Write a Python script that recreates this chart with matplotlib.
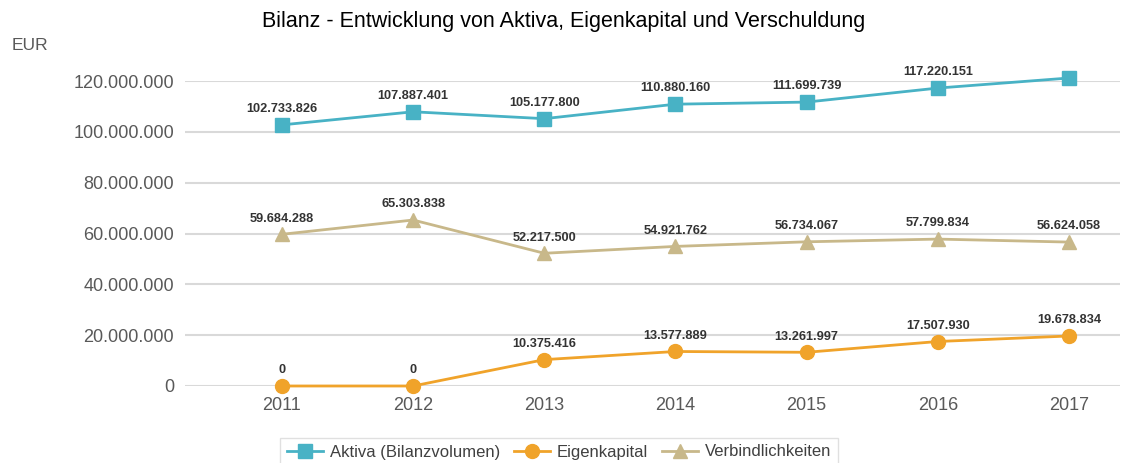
import matplotlib
matplotlib.use("Agg")
import matplotlib.pyplot as plt

years = ["2011", "2012", "2013", "2014", "2015", "2016", "2017"]
aktiva = [102733826, 107887401, 105177800, 110880160, 111699739, 117220151, 121175577]
eigenkapital = [0, 0, 10375416, 13577889, 13261997, 17507930, 19678834]
verbindlichkeiten = [59684288, 65303838, 52217500, 54921762, 56734067, 57799834, 56624058]
yticks = [0, 20000000, 40000000, 60000000, 80000000, 100000000, 120000000]

plt.rcParams['font.family'] = ['Liberation Sans', 'DejaVu Sans']

def fmt(v):
    return f"{v:,}".replace(",", ".")

fig = plt.figure(figsize=(11.4, 4.63), dpi=100)
ax = fig.add_axes([185/1140, 1 - 386/463, 935/1140, (386-81)/463])

x = list(range(len(years)))
series = [
    ("Aktiva (Bilanzvolumen)", aktiva, "#48B2C5", "s"),
    ("Eigenkapital", eigenkapital, "#F0A32A", "o"),
    ("Verbindlichkeiten", verbindlichkeiten, "#C8B88A", "^"),
]
for name, vals, col, mk in series:
    ax.plot(x, vals, color=col, lw=2, marker=mk, markersize=10, label=name,
            clip_on=False, zorder=3)
    for xi, v in zip(x, vals):
        ax.annotate(fmt(v), (xi, v), xytext=(0, 7), textcoords="offset points",
                    ha="center", va="bottom", fontsize=9.2, fontweight="bold",
                    color="#333333")

ax.set_xlim(-0.739, 6.389)
ax.set_ylim(0, 120000000)
ax.set_yticks(yticks)
ax.set_yticklabels([fmt(v) for v in yticks])
ax.set_xticks(x)
ax.set_xticklabels(years)
ax.tick_params(axis="both", length=0, labelsize=13, colors="#595959")
ax.tick_params(axis="y", pad=8)
ax.tick_params(axis="x", pad=8)
ax.grid(axis="y", color="#D9D9D9", lw=1.5)
ax.set_axisbelow(True)
for s in ax.spines.values():
    s.set_visible(False)

fig.text(564/1140, 1 - 21/463, "Bilanz - Entwicklung von Aktiva, Eigenkapital und Verschuldung",
         ha="center", va="center", fontsize=15.5, color="#000000")
fig.text(12/1140, 1 - 46/463, "EUR", ha="left", va="center", fontsize=12.5, color="#595959")

leg = fig.legend(loc="center", bbox_to_anchor=(559/1140, 1 - 452/463), ncol=3,
                 frameon=True, fancybox=False, fontsize=12, handlelength=2.2,
                 columnspacing=0.8, handletextpad=0.4, borderpad=0.4)
leg.get_frame().set_edgecolor("#D9D9D9")
for t in leg.get_texts():
    t.set_color("#404040")

fig.savefig("out.png", dpi=100)
